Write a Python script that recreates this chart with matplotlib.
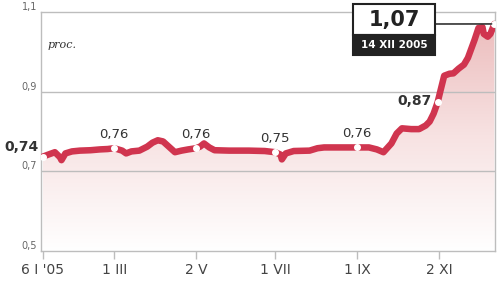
import matplotlib
matplotlib.use("Agg")
import matplotlib.pyplot as plt
import matplotlib.dates as mdates
import numpy as np
from datetime import datetime, timedelta
from matplotlib.patches import Rectangle
from matplotlib.colors import LinearSegmentedColormap

# ---- data ----
start = "2005-01-06"
day_offsets = [0, 4, 9, 13, 14, 17, 22, 28, 36, 43, 49, 54, 60, 63, 67, 73, 79, 83, 87, 91,
               96, 100, 105, 110, 116, 119, 122, 126, 130, 141, 156, 168, 176, 180, 181, 184,
               190, 202, 208, 213, 224, 238, 247, 253, 258, 264, 268, 272, 279, 285, 290, 293,
               296, 299, 301, 304, 308, 311, 315, 319, 322, 324, 327, 330, 333, 334, 337, 339, 342]
values = [0.737, 0.742, 0.748, 0.735, 0.728, 0.745, 0.750, 0.752, 0.753, 0.755, 0.756, 0.758,
          0.752, 0.745, 0.750, 0.752, 0.762, 0.772, 0.778, 0.775, 0.760, 0.748, 0.752, 0.755,
          0.758, 0.762, 0.770, 0.760, 0.753, 0.752, 0.752, 0.751, 0.748, 0.742, 0.730, 0.745,
          0.751, 0.752, 0.758, 0.760, 0.760, 0.760, 0.760, 0.755, 0.748, 0.770, 0.795, 0.808,
          0.806, 0.806, 0.815, 0.825, 0.845, 0.873, 0.900, 0.940, 0.945, 0.946, 0.958, 0.968,
          0.985, 1.003, 1.030, 1.060, 1.062, 1.045, 1.038, 1.045, 1.070]

label_idx = [0, 11, 24, 32, 41, 53]
label_texts = ["0,74", "0,76", "0,76", "0,75", "0,76", "0,87"]

tick_dates = ["2005-01-06", "2005-03-01", "2005-05-02", "2005-07-01", "2005-09-01", "2005-11-02"]
tick_labels = ["6 I '05", "1 III", "2 V", "1 VII", "1 IX", "2 XI"]
y_ticks = [0.5, 0.7, 0.9, 1.1]
y_tick_labels = ["0,5", "0,7", "0,9", "1,1"]

last_value_text = "1,07"
last_date_text = "14 XII 2005"

# ---- plot ----
base = datetime.strptime(start, "%Y-%m-%d")
dates = [base + timedelta(days=d) for d in day_offsets]
x = mdates.date2num(dates)
y = np.array(values)

fig = plt.figure(figsize=(5, 2.83), dpi=100)
ax = fig.add_axes([41/500, 1-251/283, (495-41)/500, (251-12)/283])

line_col = "#d0354f"
grid_col = "#bdbdbd"

xmin = mdates.date2num(base - timedelta(days=1.5))
xmax = mdates.date2num(base + timedelta(days=342.5))
ax.set_xlim(xmin, xmax)
ax.set_ylim(0.5, 1.1)

# gradient fill under the line
poly = ax.fill_between(x, y, 0.5, color="none", lw=0)
cmap = LinearSegmentedColormap.from_list("g", ["#ffffff", "#f7e2e2", "#ecbcbc"])
grad = np.linspace(0, 1, 256).reshape(-1, 1)
im = ax.imshow(grad, cmap=cmap, aspect="auto", origin="lower",
               extent=[xmin, xmax, 0.5, 1.08], zorder=1)
path = poly.get_paths()[0]
im.set_clip_path(path, transform=ax.transData)

for v in [0.7, 0.9]:
    ax.axhline(v, color=grid_col, lw=1.0, zorder=2)
for s in ["left", "bottom", "top", "right"]:
    ax.spines[s].set_color(grid_col)
    ax.spines[s].set_linewidth(1.0)

ax.plot(x, y, color=line_col, lw=4.7, solid_capstyle="round", solid_joinstyle="round", zorder=4)

# markers and labels
for i, t in zip(label_idx, label_texts):
    ax.plot(x[i], y[i], "o", ms=4, mfc="white", mec="white", zorder=5)
    if t == "0,74":
        ax.annotate(t, (x[i], y[i]), xytext=(-3, 7), textcoords="offset points",
                    ha="right", va="center", fontsize=10, fontweight="bold",
                    color="#333333", zorder=6, annotation_clip=False)
    elif t == "0,87":
        ax.annotate(t, (x[i], y[i]), xytext=(-4, 1), textcoords="offset points",
                    ha="right", va="center", fontsize=10, fontweight="bold",
                    color="#333333", zorder=6)
    else:
        ax.annotate(t, (x[i], y[i]), xytext=(0, 5), textcoords="offset points",
                    ha="center", va="bottom", fontsize=9.5, color="#333333", zorder=6)

ax.plot(x[-1], y[-1], "o", ms=4, mfc="white", mec="white", zorder=5)

# axes ticks
ax.set_yticks(y_ticks)
ax.set_yticklabels(y_tick_labels)
ax.tick_params(axis="y", length=0, pad=3, labelsize=7, labelcolor="#666666")
for lab in ax.get_yticklabels():
    lab.set_va("bottom")
ax.set_xticks(mdates.date2num([datetime.strptime(d, "%Y-%m-%d") for d in tick_dates]))
ax.set_xticklabels(tick_labels)
ax.tick_params(axis="x", length=6, width=1, color=grid_col, pad=3, labelsize=10, labelcolor="#444444")

ax.text(0.015, 0.85, "proc.", transform=ax.transAxes, fontsize=8, style="italic",
        family="DejaVu Serif", color="#333333")

# value box
bx0, bx1 = 353/500, 435/500
fig.patches.append(Rectangle((bx0, 1-35/283), bx1-bx0, 31/283, transform=fig.transFigure,
                             facecolor="white", edgecolor="#222222", lw=1.5, zorder=10))
fig.patches.append(Rectangle((bx0, 1-55/283), bx1-bx0, 20/283, transform=fig.transFigure,
                             facecolor="#222222", edgecolor="#222222", lw=1.5, zorder=10))
fig.text((bx0+bx1)/2, 1-20/283, last_value_text, ha="center", va="center", fontsize=15,
         fontweight="bold", color="#222222", zorder=11)
fig.text((bx0+bx1)/2, 1-45/283, last_date_text, ha="center", va="center", fontsize=7.5,
         fontweight="bold", color="white", zorder=11)
ax.annotate("", xy=(x[-1], y[-1]), xytext=(bx1, 1-24/283), textcoords="figure fraction",
            xycoords="data", arrowprops=dict(arrowstyle="-", color="#333333", lw=1.2,
                                            shrinkA=0, shrinkB=2), zorder=7)

fig.savefig("out.png", dpi=100)
